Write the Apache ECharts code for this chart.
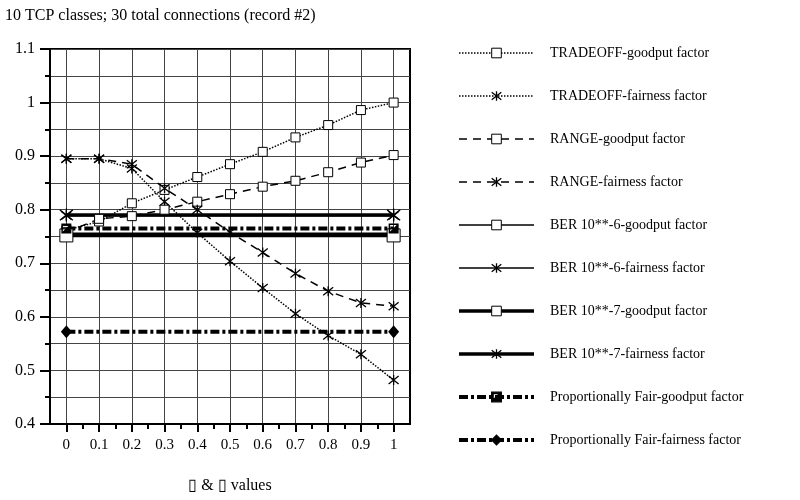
<!DOCTYPE html>
<html>
<head>
<meta charset="utf-8">
<script src="https://cdn.jsdelivr.net/npm/echarts@6/dist/echarts.min.js"></script>
<style>
html,body{margin:0;padding:0;background:#fff;}
#chart{width:800px;height:500px;}
</style>
</head>
<body>
<div id="chart"></div>
<script>
// x positions (alpha & beta values)
var xValues = [0, 0.1, 0.2, 0.3, 0.4, 0.5, 0.6, 0.7, 0.8, 0.9, 1];
var xTickLabels = [0, 0.1, 0.2, 0.3, 0.4, 0.5, 0.6, 0.7, 0.8, 0.9, 1];
var xMinorTicks = [0.05, 0.15, 0.25, 0.35, 0.45, 0.55, 0.65, 0.75, 0.85, 0.95];
var flatX = [0, 1];

// series
var tradeoffGoodput = [0.762, 0.778, 0.812, 0.837, 0.861, 0.885, 0.908, 0.935, 0.958, 0.986, 1.0];
var tradeoffFairness = [0.895, 0.895, 0.877, 0.815, 0.757, 0.704, 0.654, 0.606, 0.565, 0.530, 0.482];
var rangeGoodput = [0.758, 0.783, 0.788, 0.800, 0.815, 0.829, 0.843, 0.854, 0.870, 0.888, 0.902];
var rangeFairness = [0.895, 0.895, 0.885, 0.840, 0.800, 0.758, 0.720, 0.681, 0.648, 0.626, 0.620];
var ber6Goodput = [0.756, 0.756];
var ber6Fairness = [0.789, 0.789];
var ber7Goodput = [0.752, 0.752];
var ber7Fairness = [0.790, 0.790];
var pfGoodput = [0.765, 0.765];
var pfFairness = [0.572, 0.572];

var seriesNames = [
  'TRADEOFF-goodput factor',
  'TRADEOFF-fairness factor',
  'RANGE-goodput factor',
  'RANGE-fairness factor',
  'BER 10**-6-goodput factor',
  'BER 10**-6-fairness factor',
  'BER 10**-7-goodput factor',
  'BER 10**-7-fairness factor',
  'Proportionally Fair-goodput factor',
  'Proportionally Fair-fairness factor'
];

var FONT = '"Liberation Serif", "Times New Roman", serif';
var STAR = 'path://M0,1L10,9M10,1L0,9M5,0L5,10';
var HALFBOX = 'path://M0,0L10,0L10,10L0,10ZM1.5,1.5L1.5,8L8,1.5Z';
var dashDot = [9, 3, 3, 3];
var dashed = [8, 6];

// line look per series, used by both the plot and the legend
var looks = [
  {type: 'dotted', width: 1.5},
  {type: 'dotted', width: 1.5},
  {type: dashed, width: 1.5},
  {type: dashed, width: 1.5},
  {type: 'solid', width: 1.6},
  {type: 'solid', width: 1.6},
  {type: 'solid', width: 3.5},
  {type: 'solid', width: 3.5},
  {type: dashDot, width: 4},
  {type: dashDot, width: 4}
];

function pairs(xs, ys){
  return xs.map(function(x, i){ return [x, ys[i]]; });
}

function boxSeries(i, xs, ys, size){
  return {
    name: seriesNames[i], type: 'line', data: pairs(xs, ys),
    symbol: 'rect', symbolSize: size,
    lineStyle: {color: '#000', width: looks[i].width, type: looks[i].type},
    itemStyle: {color: '#fff', borderColor: '#000', borderWidth: 1}
  };
}
function starSeries(i, xs, ys, size){
  return {
    name: seriesNames[i], type: 'line', data: pairs(xs, ys),
    symbol: STAR, symbolSize: size,
    lineStyle: {color: '#000', width: looks[i].width, type: looks[i].type},
    itemStyle: {color: '#000', borderColor: '#000', borderWidth: 1.3}
  };
}

var legendData = seriesNames.map(function(n, i){
  var isBox = (i % 2 === 0 && i < 8);
  return {
    name: n,
    lineStyle: {color: '#000', width: looks[i].width, type: looks[i].type},
    itemStyle: isBox ? {color: '#fff', borderColor: '#000', borderWidth: 1}
                     : {color: '#000', borderColor: '#000', borderWidth: 1.3}
  };
});

var chart = echarts.init(document.getElementById('chart'));
chart.setOption({
  animation: false,
  backgroundColor: '#fff',
  title: {
    text: '10 TCP classes; 30 total connections (record #2)',
    left: 0, top: 3,
    textStyle: {fontFamily: FONT, fontSize: 16, fontWeight: 'normal', color: '#000'}
  },
  legend: {
    orient: 'vertical',
    left: 452, top: 41,
    itemWidth: 75, itemHeight: 12, itemGap: 29,
    data: legendData,
    textStyle: {fontFamily: FONT, fontSize: 14, color: '#000', padding: [0, 0, 0, 11]}
  },
  grid: {
    left: 50, right: 390, top: 49, bottom: 76,
    show: true, borderColor: '#000', borderWidth: 2, backgroundColor: 'transparent'
  },
  xAxis: [{
    type: 'value', min: -0.05, max: 1.05, interval: 0.05,
    position: 'bottom',
    name: '\u25AF & \u25AF values',
    nameLocation: 'middle', nameGap: 54,
    nameTextStyle: {fontFamily: FONT, fontSize: 16, color: '#000'},
    axisLine: {show: true, onZero: false, lineStyle: {color: '#000', width: 2}},
    axisTick: {show: true, length: 8, customValues: xTickLabels, lineStyle: {color: '#000', width: 2}},
    axisLabel: {customValues: xTickLabels, margin: 14, fontFamily: FONT, fontSize: 15, color: '#000'},
    splitLine: {show: true, lineStyle: {color: '#444', width: 1}}
  }, {
    // short ticks between labels
    type: 'value', min: -0.05, max: 1.05, interval: 0.05,
    position: 'bottom',
    axisLine: {show: false},
    axisTick: {show: true, length: 5, customValues: xMinorTicks, lineStyle: {color: '#000', width: 2}},
    axisLabel: {show: false},
    splitLine: {show: false}
  }],
  yAxis: {
    type: 'value', min: 0.4, max: 1.1, interval: 0.1,
    axisLine: {show: true, onZero: false, lineStyle: {color: '#000', width: 2}},
    axisTick: {show: true, length: 10, lineStyle: {color: '#000', width: 2}},
    minorTick: {show: true, splitNumber: 2, length: 5, lineStyle: {color: '#000', width: 2}},
    axisLabel: {margin: 15, fontFamily: FONT, fontSize: 16, color: '#000'},
    splitLine: {show: true, lineStyle: {color: '#444', width: 1}},
    minorSplitLine: {show: true, lineStyle: {color: '#444', width: 1}}
  },
  series: [
    boxSeries(0, xValues, tradeoffGoodput, 9),
    starSeries(1, xValues, tradeoffFairness, 10),
    boxSeries(2, xValues, rangeGoodput, 9),
    starSeries(3, xValues, rangeFairness, 10),
    boxSeries(4, flatX, ber6Goodput, 9),
    starSeries(5, flatX, ber6Fairness, 10),
    boxSeries(6, flatX, ber7Goodput, 13),
    starSeries(7, flatX, ber7Fairness, 13),
    {
      name: seriesNames[8], type: 'line', data: pairs(flatX, pfGoodput),
      symbol: HALFBOX, symbolSize: 10,
      lineStyle: {color: '#000', width: looks[8].width, type: looks[8].type},
      itemStyle: {color: '#000'}
    },
    {
      name: seriesNames[9], type: 'line', data: pairs(flatX, pfFairness),
      symbol: 'diamond', symbolSize: [11, 13],
      lineStyle: {color: '#000', width: looks[9].width, type: looks[9].type},
      itemStyle: {color: '#000'}
    }
  ]
});
</script>
</body>
</html>
